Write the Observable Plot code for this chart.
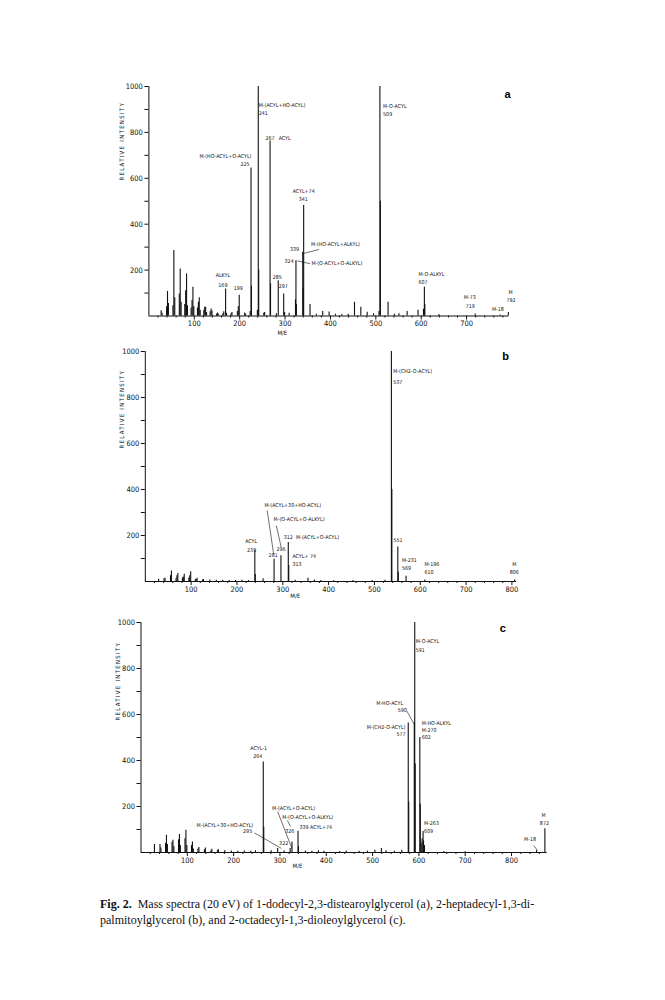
<!DOCTYPE html>
<html><head><meta charset="utf-8">
<script src="https://cdn.jsdelivr.net/npm/d3@7"></script>
<script src="https://cdn.jsdelivr.net/npm/@observablehq/plot@0.6"></script>
<style>
body{margin:0;background:#fff;}
#page{position:relative;width:665px;height:1000px;overflow:hidden;}
.panel{position:absolute;left:0;}
#caption{position:absolute;left:100px;top:897px;font-family:"Liberation Serif","Times New Roman",serif;font-size:12px;line-height:15.5px;color:#111;white-space:nowrap;}
</style></head><body>
<div id="page"><div id="caption"></div></div>
<script>
// ---------- Panel a: 1-dodecyl-2,3-distearoylglycerol ----------
const A_MZ  = [27,29,39,41,43,53,55,57,67,69,71,79,81,83,85,93,95,97,99,107,109,111,113,121,123,125,127,135,137,139,149,151,153,163,165,169,171,181,183,195,197,199,211,213,223,225,226,239,241,242,253,255,267,268,281,285,297,299,309,323,324,325,339,340,341,355,369,383,397,411,425,439,453,467,481,495,507,509,510,527,541,551,569,593,605,607,608,639,719,774,792];
const A_INT = [23,12,40,107,55,45,285,80,96,205,60,50,110,183,45,35,67,125,40,35,60,80,25,25,38,38,15,18,30,22,8,13,8,10,18,118,12,10,15,20,40,90,13,8,20,645,130,25,1000,200,12,15,762,140,10,154,96,15,12,70,241,50,278,120,481,50,8,20,17,8,6,8,60,38,16,10,20,1000,500,60,8,10,20,25,30,125,50,6,9,4,15];
const A_LABELS = [
  ["M-(ACYL+HO-ACYL)",242,917,"start"],["241",242,882,"start"],
  ["267",267,775,"middle"],["ACYL",286,775,"start"],
  ["M-(HO-ACYL+O-ACYL)",226,695,"end"],["225",222,660,"end"],
  ["ACYL+74",341,543,"middle"],["341",340,507,"middle"],
  ["339",331,290,"end"],["M-(HO-ACYL+ALKYL)",357,311,"start"],
  ["324",319,237,"end"],["M-(O-ACYL+O-ALKYL)",358,229,"start"],
  ["285",283,168,"middle"],["297",296,128,"middle"],
  ["ALKYL",163,176,"middle"],["169",163,133,"middle"],["199",197,120,"middle"],
  ["M-O-ACYL",516,913,"start"],["509",516,878,"start"],
  ["M-O-ALKYL",594,181,"start"],["607",594,146,"start"],
  ["M-73",707,81,"middle"],["719",708,41,"middle"],["M-18",769,28,"middle"],
  ["M",797,102,"middle"],["792",798,67,"middle"]
];
const A_LEADERS = [[339.5,272,375,290],[327,240,355,228]];

// ---------- Panel b: 2-heptadecyl-1,3-dipalmitoylglycerol ----------
const B_MZ  = [29,41,43,55,57,67,69,71,81,83,85,95,97,99,109,111,113,125,127,141,155,169,183,197,211,225,239,240,257,281,296,312,313,327,355,369,383,411,453,495,523,537,538,551,552,569,610,806];
const B_INT = [10,12,14,25,46,12,25,35,15,20,32,15,25,42,8,10,14,6,9,6,5,5,4,4,5,4,136,30,12,97,112,170,70,5,14,6,4,3,4,4,5,1000,400,150,40,23,7,7];
const B_LABELS = [
  ["M-(CH2-O-ACYL)",541,913,"start"],["537",541,866,"start"],
  ["551",541.5,178,"start"],
  ["M-231",560,91,"start"],["569",560,56,"start"],
  ["M-196",609,74,"start"],["610",609,39,"start"],
  ["M",805,74,"middle"],["806",805,39,"middle"],
  ["ACYL",231,174,"middle"],["239",232,135,"middle"],
  ["281",279,115,"middle"],["296",296,139,"middle"],["312",312,193,"middle"],
  ["M-(ACYL+O-ACYL)",329,191,"start"],
  ["ACYL+ 74",321,109,"start"],["313",321,74,"start"],
  ["M-(ACYL+30+HO-ACYL)",260,330,"start"],
  ["M-(O-ACYL+O-ALKYL)",280,270,"start"]
];
const B_LEADERS = [[266,309,280,120],[286,243,296.5,149]];

// ---------- Panel c: 2-octadecyl-1,3-dioleoylglycerol ----------
const C_MZ  = [29,41,43,53,55,57,67,69,71,81,83,85,95,97,99,109,111,113,123,125,137,139,151,153,165,167,181,195,209,223,237,247,264,265,281,295,309,322,326,339,340,355,369,383,395,429,443,471,489,505,519,529,547,563,577,578,590,591,592,602,603,605,607,609,610,612,654,700,854,872];
const C_INT = [35,35,20,40,75,35,45,53,25,55,78,30,60,97,30,30,46,15,15,22,12,20,8,14,8,13,9,6,5,6,5,8,393,110,8,17,6,17,46,92,25,6,5,8,5,4,6,5,6,10,17,8,5,10,563,220,565,1000,385,500,210,40,60,91,50,30,4,3,8,103];
const C_LABELS = [
  ["M-O-ACYL",593,917,"start"],["591",593,878,"start"],
  ["M-HO-ACYL",566,650,"end"],["590",574,620,"end"],
  ["M-(CH2-O-ACYL)",571,545,"end"],["577",571,515,"end"],
  ["M-HO-ALKYL",606,560,"start"],["M-270",606,530,"start"],["602",606,499,"start"],
  ["M-263",611,126,"start"],["609",611,91,"start"],
  ["ACYL-1",254,452,"middle"],["264",252,419,"middle"],
  ["M-(ACYL+O-ACYL)",283,193,"start"],["M-(O-ACYL+O-ALKYL)",305,152,"start"],
  ["326",321,91,"middle"],["339 ACYL+74",342,110,"start"],["322",308,39,"middle"],
  ["M-(ACYL+30+HO-ACYL)",120,117,"start"],["295",240,91,"end"],
  ["M-18",840,56,"middle"],["M",869,160,"middle"],["872",871,125,"middle"]
];
const C_LEADERS = [[574,615,589,560],[295,178,326,17],[316,139,323,113],[245,85,303,18],[848,30,856,9]];

const PANELS = [
  {mz:A_MZ, val:A_INT, labels:A_LABELS, leaders:A_LEADERS, tag:"a", tagPos:[790,965],
   top:70, height:280, ml:148.4, mr:156.7, mt:16, mb:34.5, xmax:793, xticks:[100,200,300,400,500,600,700],
   ylab:[590,-27], me:[294,18.5]},
  {mz:B_MZ, val:B_INT, labels:B_LABELS, leaders:B_LEADERS, tag:"b", tagPos:[786,978],
   top:335, height:280, ml:144.8, mr:149, mt:16, mb:34, xmax:810, xticks:[100,200,300,400,500,600,700,800],
   ylab:[578,-23], me:[327,16.5]},
  {mz:C_MZ, val:C_INT, labels:C_LABELS, leaders:C_LEADERS, tag:"c", tagPos:[781,974],
   top:605, height:280, ml:140.5, mr:118.3, mt:17, mb:33, xmax:877, xticks:[100,200,300,400,500,600,700,800],
   ylab:[574,-23], me:[338,15.5]}
];

const FAM = '"DejaVu Sans Condensed","DejaVu Sans",sans-serif';
const INK = "#111";

function panel(p) {
  const peaks = p.mz.map((m, i) => ({mz: m, v: p.val[i]}));
  const labels = p.labels.map(([t, x, y, a]) => ({t, x, y, a}));
  const leaders = p.leaders.map(([x1, y1, x2, y2]) => ({x1, y1, x2, y2}));
  const minor = d3.range(20, p.xmax, 20).filter(d => d % 100 !== 0);
  const lab = a => Plot.text(labels.filter(d => d.a === a),
    {x: "x", y: "y", text: "t", textAnchor: a, fontSize: 5.3, fill: INK, fontFamily: FAM});
  const svg = Plot.plot({
    width: 665, height: p.height,
    marginLeft: p.ml, marginRight: p.mr, marginTop: p.mt, marginBottom: p.mb,
    style: {fontFamily: FAM, color: INK, background: "transparent", overflow: "visible"},
    x: {domain: [0, p.xmax]},
    y: {domain: [0, 1000]},
    marks: [
      Plot.axisY({ticks: d3.range(100, 1001, 100), tickSize: 4, tickPadding: 2,
        tickFormat: d => d % 200 ? "" : String(d), label: null, fontSize: 7.5}),
      Plot.axisX({ticks: p.xticks, tickSize: 4, tickPadding: 1, tickFormat: d => String(d), label: null, fontSize: 7.5}),
      Plot.axisX({ticks: minor, tickSize: 2, tickFormat: () => "", label: null}),
      Plot.ruleY([0], {stroke: INK, strokeWidth: 1}),
      Plot.ruleX([0], {y1: 0, y2: 1000, stroke: INK, strokeWidth: 1}),
      Plot.ruleX(peaks, {x: "mz", y1: 0, y2: "v", stroke: INK, strokeWidth: 1.1}),
      Plot.link(leaders, {x1: "x1", y1: "y1", x2: "x2", y2: "y2", stroke: INK, strokeWidth: 0.6}),
      lab("start"), lab("middle"), lab("end"),
      Plot.text([p.tag], {x: [p.tagPos[0]], y: [p.tagPos[1]], fontSize: 11, fontWeight: "bold",
        fontFamily: '"Liberation Sans",Arial,sans-serif', fill: "#000"}),
      Plot.text(["RELATIVE INTENSITY"], {frameAnchor: "left", y: [p.ylab[0]], dx: p.ylab[1], rotate: -90,
        fontSize: 6, fill: INK}),
      Plot.text(["M/E"], {frameAnchor: "bottom", x: [p.me[0]], dy: p.me[1], fontSize: 6, fill: INK})
    ]
  });
  d3.select(svg).selectAll("text").filter(function() { return this.textContent === "RELATIVE INTENSITY"; })
    .attr("letter-spacing", "1.3");
  svg.classList.add("panel");
  svg.style.top = p.top + "px";
  return svg;
}

const page = document.getElementById("page");
for (const p of PANELS) page.appendChild(panel(p));

const CAPTION = ["<b>Fig. 2.</b>&nbsp; Mass spectra (20 eV) of 1-dodecyl-2,3-distearoylglycerol (a), 2-heptadecyl-1,3-di-",
                 "palmitoylglycerol (b), and 2-octadecyl-1,3-dioleoylglycerol (c)."];
document.getElementById("caption").innerHTML = CAPTION.join("<br>");
</script>
</body></html>
